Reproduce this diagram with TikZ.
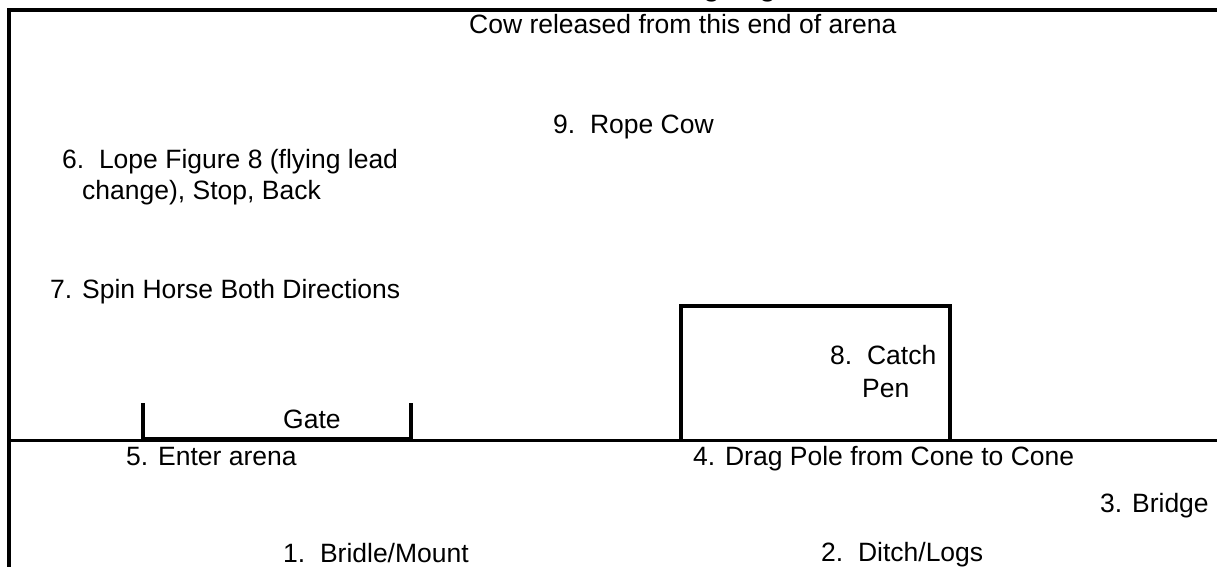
\documentclass[tikz,border=0pt]{standalone}
\usepackage{fontspec}
\setmainfont{Liberation Sans}
\begin{document}
\begin{tikzpicture}[x=1pt,y=-1pt,
  lbl/.style={anchor=base west,inner sep=0pt,font=\fontsize{26.5}{32}\selectfont},
  wall/.style={line width=4.5pt},
  fence/.style={line width=3.5pt},
  mid/.style={line width=3pt}]
\useasboundingbox (0,0) rectangle (1217,567);
\clip (0,0) rectangle (1217,567);
% clipped title
\node[anchor=base,inner sep=0pt,font=\fontsize{26.5}{32}\selectfont\bfseries] (title) at (712,-3) {Tasks are ridden going in this order};
% arena walls
\coordinate (tl) at (9,10);
\coordinate (tr) at (1217,10);
\coordinate (bl) at (9,567);
\draw[wall,line cap=rect] (tr) -- (tl) -- (bl);
% middle line
\coordinate (ml) at (9,440);
\coordinate (mr) at (1217,440);
\draw[mid] (ml) -- (mr);
% gate
\coordinate (g1) at (143,403);
\coordinate (g2) at (143,439);
\coordinate (g3) at (411,439);
\coordinate (g4) at (411,403);
\draw[fence] (g1) -- (g2) -- (g3) -- (g4);
% catch pen
\coordinate (p1) at (681,440);
\coordinate (p2) at (681,306);
\coordinate (p3) at (950,306);
\coordinate (p4) at (950,440);
\draw[fence] (p1) -- (p2) -- (p3) -- (p4);
% labels
\node[lbl] (cow) at (469,34) {Cow released from this end of arena};
\node[lbl] (t9) at (553,133) {9.\ \ Rope Cow};
\node[lbl] (t6a) at (62,168) {6.\ \ Lope Figure 8 (flying lead};
\node[lbl] (t6b) at (82,199) {change), Stop, Back};
\node[lbl] (t7) at (50,298) {7. Spin Horse Both Directions};
\node[lbl] (t8a) at (830,364) {8.\ \ Catch};
\node[lbl] (t8b) at (862,397) {Pen};
\node[lbl] (gate) at (283,428) {Gate};
\node[lbl] (t5) at (126,465) {5. Enter arena};
\node[lbl] (t4) at (693,465) {4. Drag Pole from Cone to Cone};
\node[lbl] (t3) at (1100,512) {3. Bridge};
\node[lbl] (t1) at (283,562) {1.\ \ Bridle/Mount};
\node[lbl] (t2) at (821,561) {2.\ \ Ditch/Logs};
\end{tikzpicture}
\end{document}
